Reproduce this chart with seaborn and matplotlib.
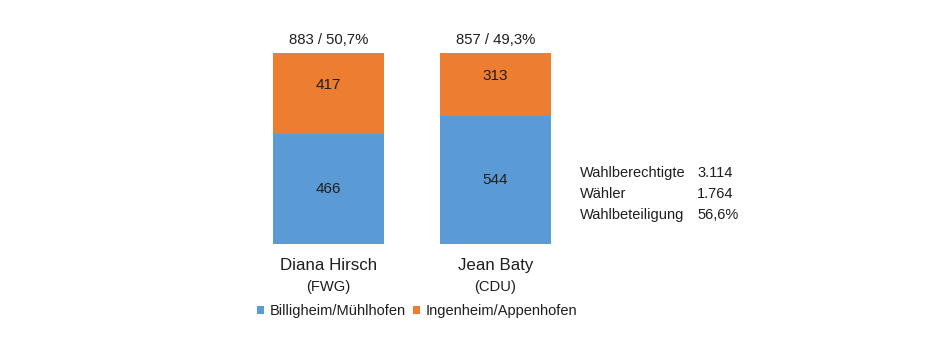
import matplotlib
matplotlib.use("Agg")
import matplotlib.pyplot as plt
from matplotlib.patches import Patch
import seaborn as sns
import pandas as pd

# ---- data ----
candidates = ["Diana Hirsch", "Jean Baty"]
parties = ["(FWG)", "(CDU)"]
billigheim = [466, 544]
ingenheim = [417, 313]
totals = [883, 857]
total_pct = ["50,7%", "49,3%"]
series_names = ["Billigheim/Mühlhofen", "Ingenheim/Appenhofen"]
info_labels = ["Wahlberechtigte", "Wähler", "Wahlbeteiligung"]
info_values = ["3.114", "1.764", "56,6%"]

BLUE = "#5B9BD5"
ORANGE = "#ED7D31"
TXT = "#1e1e1e"
Y_FLOOR = -11.3  # axis crossing (bars start at axis floor, as in the source)

sns.set_style("white")
plt.rcParams["font.family"] = ["Liberation Sans", "DejaVu Sans"]

df = pd.DataFrame({
    "cand": candidates,
    "blue": [100 * b / t for b, t in zip(billigheim, totals)],
    "top": [100 * (b + o) / t for b, o, t in zip(billigheim, ingenheim, totals)],
})

fig = plt.figure(figsize=(9.4, 3.5), dpi=100)
ax = fig.add_axes([245 / 940, 1 - 244 / 350, 334 / 940, 191 / 350])

sns.barplot(data=df, x="cand", y="top", color=ORANGE, saturation=1,
            width=0.665, ax=ax, errorbar=None)
sns.barplot(data=df, x="cand", y="blue", color=BLUE, saturation=1,
            width=0.665, ax=ax, errorbar=None)

# extend bars down to the axis floor
for p in ax.patches:
    top = p.get_y() + p.get_height()
    p.set_y(Y_FLOOR)
    p.set_height(top - Y_FLOOR)
    p.set_linewidth(0)

ax.set_xlim(-0.5, 1.5)
ax.set_ylim(Y_FLOOR, 100)
for s in ax.spines.values():
    s.set_visible(False)
ax.set_yticks([])
ax.set_xlabel("")
ax.set_ylabel("")
ax.tick_params(axis="x", length=0, labelsize=12.2, pad=10, colors=TXT)

for i in range(len(candidates)):
    b = df["blue"][i]
    t = df["top"][i]
    ax.text(i, (Y_FLOOR + b) / 2, str(billigheim[i]), ha="center", va="center",
            fontsize=11, color=TXT)
    ax.annotate(str(ingenheim[i]), (i, (b + t) / 2), xytext=(0, 6),
                textcoords="offset points", ha="center", va="center",
                fontsize=11, color=TXT)
    ax.annotate(f"{totals[i]} / {total_pct[i]}", (i, t), xytext=(0, 9),
                textcoords="offset points", ha="center", va="center",
                fontsize=10.7, color=TXT, annotation_clip=False)
    ax.annotate(parties[i], (i, Y_FLOOR), xytext=(0, -31),
                textcoords="offset points", ha="center", va="center",
                fontsize=10.6, color=TXT, annotation_clip=False)

handles = [Patch(facecolor=BLUE, edgecolor="none"),
           Patch(facecolor=ORANGE, edgecolor="none")]
fig.legend(handles, series_names, loc="center", bbox_to_anchor=(417 / 940, 1 - 311 / 350),
           ncol=2, frameon=False, fontsize=10.5, handlelength=0.5, handleheight=0.5,
           handletextpad=0.4, columnspacing=0.45, labelcolor=TXT)

for k, (lab, val) in enumerate(zip(info_labels, info_values)):
    y = 1 - (173 + 21 * k) / 350
    fig.text(580 / 940, y, lab, ha="left", va="center", fontsize=10.5, color=TXT)
    fig.text(697 / 940, y, val, ha="left", va="center", fontsize=10.5, color=TXT)

fig.savefig("out.png", dpi=100, facecolor="white")
